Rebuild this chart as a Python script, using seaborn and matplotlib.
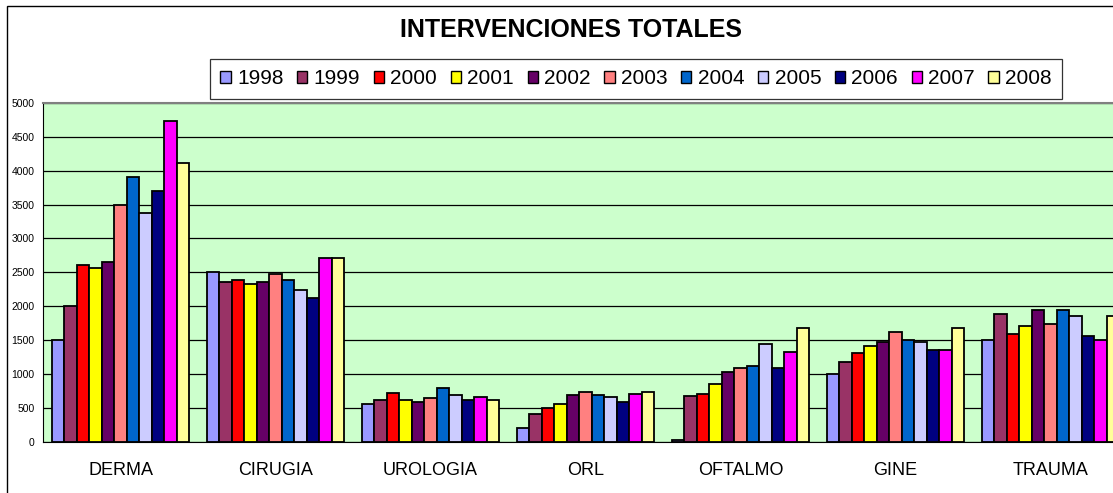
import pandas as pd
import matplotlib.pyplot as plt
import matplotlib.patches as mpatches
import seaborn as sns

sns.set_style("white")
plt.rcParams['font.family'] = ['Liberation Sans', 'DejaVu Sans']
plt.rcParams['text.color'] = 'black'
plt.rcParams['xtick.color'] = 'black'
plt.rcParams['ytick.color'] = 'black'

# Data
servicios = ['DERMA', 'CIRUGIA', 'UROLOGIA', 'ORL', 'OFTALMO', 'GINE', 'TRAUMA']
anios = ['1998', '1999', '2000', '2001', '2002', '2003', '2004', '2005', '2006', '2007', '2008']

derma = [1500, 2000, 2610, 2560, 2650, 3500, 3910, 3380, 3700, 4730, 4110]
cirugia = [2500, 2360, 2380, 2320, 2360, 2470, 2380, 2240, 2120, 2710, 2710]
urologia = [560, 620, 720, 610, 590, 645, 790, 680, 610, 650, 615]
orl = [200, 410, 490, 555, 680, 730, 680, 650, 590, 705, 735]
oftalmo = [25, 675, 705, 850, 1030, 1090, 1115, 1440, 1085, 1320, 1670]
gine = [1000, 1180, 1300, 1410, 1475, 1620, 1500, 1470, 1355, 1355, 1675]
trauma = [1500, 1890, 1595, 1710, 1945, 1740, 1940, 1860, 1560, 1500, 1860]

colores = ['#9999FF', '#993366', '#FF0000', '#FFFF00', '#660066', '#FF8080',
           '#0066CC', '#CCCCFF', '#000080', '#FF00FF', '#FFFF99']

valores = [derma, cirugia, urologia, orl, oftalmo, gine, trauma]
rows = []
for s, vals in zip(servicios, valores):
    for a, v in zip(anios, vals):
        rows.append({'Servicio': s, 'Año': a, 'Intervenciones': v})
df = pd.DataFrame(rows)

W, H = 1113, 493
fig = plt.figure(figsize=(W / 100, H / 100), dpi=100)
ax = fig.add_axes([43 / W, (H - 441.5) / H, (1128 - 43) / W, (441.5 - 103) / H])
ax.set_facecolor('#CCFFCC')

sns.barplot(data=df, x='Servicio', y='Intervenciones', hue='Año', hue_order=anios,
            palette=colores, saturation=1, width=0.886, edgecolor='black', linewidth=1.3,
            ax=ax, legend=False)

ax.set_xlim(-0.5, 6.5)
ax.set_ylim(0, 5000)
ax.set_yticks(range(0, 5001, 500))
ax.yaxis.grid(True, color='black', linewidth=0.9)
ax.set_axisbelow(True)
ax.set_xlabel('')
ax.set_ylabel('')

ax.set_xticks(range(len(servicios)))
ax.set_xticklabels(servicios, family=['Liberation Sans Narrow', 'Liberation Sans'], fontsize=13)
ax.set_xticks([i - 0.5 for i in range(len(servicios) + 1)], minor=True)
ax.tick_params(axis='x', which='major', length=0, pad=15)
ax.tick_params(axis='x', which='minor', length=5, width=0.8, color='black', direction='out')
ax.tick_params(axis='y', length=4, width=0.8, color='black', direction='out', labelsize=7.5, pad=2)

ax.spines['left'].set_color('black')
ax.spines['bottom'].set_color('black')
ax.spines['top'].set_color('#808080')
ax.spines['top'].set_linewidth(1.5)
ax.spines['right'].set_visible(False)

# outer chart border
fig.patches.append(mpatches.Rectangle((7 / W, -0.02), 1.2, (H - 6) / H + 0.02, transform=fig.transFigure,
                                      fill=False, edgecolor='black', linewidth=1))

fig.text(571 / W, (H - 30) / H, 'INTERVENCIONES TOTALES', ha='center', va='center',
         fontsize=18, fontweight='bold')

handles = [mpatches.Patch(facecolor=c, edgecolor='black', linewidth=1, label=a) for a, c in zip(anios, colores)]
leg = fig.legend(handles=handles, ncol=11, loc='center', bbox_to_anchor=(636 / W, (H - 79) / H),
                 frameon=True, fancybox=False, edgecolor='black', fontsize=15,
                 handlelength=0.5, handleheight=0.5, handletextpad=0.3, columnspacing=0.65,
                 borderpad=0.5)
leg.get_frame().set_linewidth(0.9)

fig.savefig('out.png', dpi=100)
